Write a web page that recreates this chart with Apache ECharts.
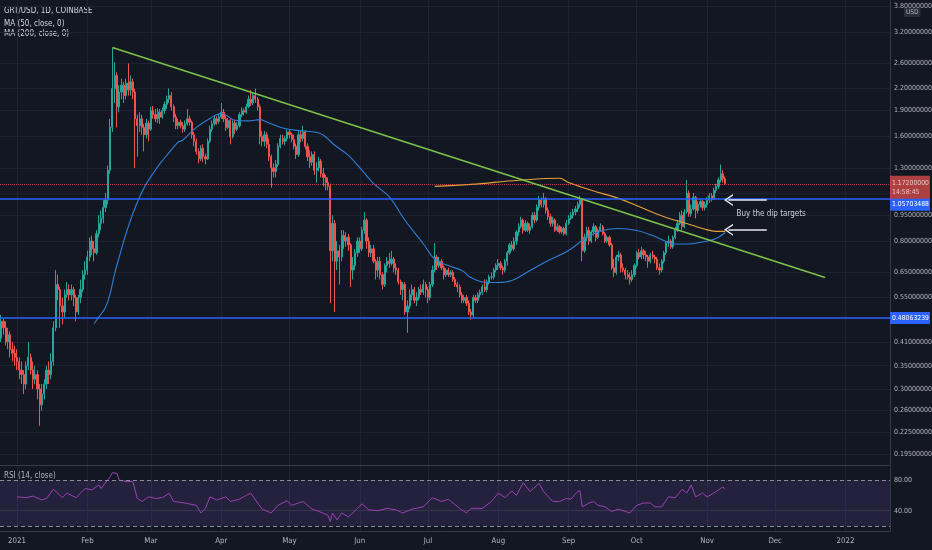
<!DOCTYPE html>
<html><head><meta charset="utf-8">
<script src="https://cdn.jsdelivr.net/npm/echarts@6/dist/echarts.min.js"></script>
<style>html,body{margin:0;padding:0;background:#131722}#c{width:932px;height:550px}</style>
</head><body><div id="c"></div><script>
const startDate = '2020-12-24';
const firstOpen = 0.40;
const closes = [
0.42,0.47,0.45,0.41,0.43,0.39,0.38,0.37,
0.36,0.34,0.33,0.31,0.35,0.37,0.34,0.32,0.33,0.30,0.27,0.29,0.31,0.34,0.33,0.36,0.45,0.60,0.58,0.52,0.50,0.56,0.58,0.56,0.58,0.55,0.50,0.55,0.58,0.64,0.66,
0.72,0.80,0.76,0.74,0.84,0.90,0.93,1.00,1.05,1.28,1.70,2.20,2.40,1.95,2.15,2.25,2.10,2.28,2.18,2.30,2.15,1.80,1.72,1.80,1.70,1.62,1.75,1.68,
1.90,1.85,1.80,1.88,1.82,1.90,1.98,2.05,2.10,1.95,1.82,1.72,1.76,1.72,1.68,1.74,1.80,1.76,1.62,1.55,1.45,1.38,1.48,1.40,1.38,1.55,1.68,1.74,1.80,1.77,1.82,
1.88,1.80,1.70,1.78,1.60,1.75,1.68,1.72,1.85,1.90,1.88,1.95,2.05,2.00,2.10,2.05,1.95,1.60,1.55,1.62,1.52,1.40,1.30,1.27,1.33,1.50,1.58,1.55,1.58,1.65,
1.62,1.57,1.50,1.42,1.62,1.58,1.65,1.50,1.40,1.35,1.42,1.28,1.30,1.36,1.25,1.22,1.18,1.15,0.75,0.90,0.70,0.75,0.72,0.83,0.80,0.82,0.78,0.66,0.68,0.74,0.80,
0.76,0.86,0.92,0.80,0.74,0.76,0.70,0.66,0.70,0.64,0.60,0.68,0.70,0.69,0.71,0.67,0.66,0.61,0.58,0.60,0.50,0.52,0.56,0.58,0.54,0.55,0.58,0.57,0.60,0.58,
0.55,0.60,0.66,0.72,0.68,0.70,0.67,0.64,0.66,0.64,0.65,0.62,0.60,0.59,0.56,0.54,0.55,0.53,0.50,0.49,0.55,0.54,0.56,0.57,0.59,0.58,0.61,0.63,0.63,0.66,0.68,
0.69,0.67,0.66,0.70,0.74,0.78,0.76,0.80,0.85,0.88,0.92,0.86,0.90,0.86,0.88,0.95,0.92,1.00,1.05,1.02,1.06,0.98,0.94,0.90,0.92,0.86,0.88,0.85,0.87,0.84,0.90,
0.93,0.95,0.97,0.99,1.02,1.05,0.75,0.82,0.86,0.80,0.85,0.88,0.82,0.86,0.88,0.84,0.80,0.82,0.78,0.67,0.65,0.72,0.73,0.67,0.66,0.64,0.63,0.62,0.64,0.68,
0.74,0.72,0.75,0.73,0.72,0.70,0.73,0.72,0.71,0.67,0.66,0.70,0.74,0.79,0.80,0.77,0.82,0.86,0.90,0.95,0.88,0.97,1.10,0.96,0.99,1.07,0.98,1.02,1.04,1.00,1.02,
1.05,1.08,1.06,1.12,1.15,1.20,1.25,1.21,1.172];
const highs = [
0.46,0.49,0.48,0.47,0.45,0.44,0.41,0.40,
0.39,0.37,0.36,0.34,0.36,0.41,0.38,0.36,0.35,0.34,0.31,0.31,0.32,0.35,0.36,0.38,0.47,0.66,0.64,0.59,0.55,0.58,0.61,0.60,0.60,0.59,0.56,0.56,0.62,0.66,0.70,
0.75,0.82,0.83,0.80,0.86,0.95,0.98,1.05,1.10,1.32,1.80,2.88,2.62,2.45,2.25,2.35,2.30,2.35,2.60,2.40,2.35,2.20,1.85,1.88,1.85,1.74,1.80,1.78,
1.95,1.96,1.92,1.93,1.92,1.94,2.02,2.10,2.20,2.15,1.98,1.86,1.80,1.79,1.76,1.78,1.92,1.84,1.78,1.65,1.58,1.48,1.51,1.52,1.43,1.58,1.72,1.78,1.84,1.83,1.86,
2.00,1.92,1.84,1.81,1.80,1.78,1.79,1.76,1.88,1.94,1.93,1.99,2.10,2.18,2.14,2.20,2.08,1.98,1.66,1.66,1.65,1.58,1.42,1.34,1.37,1.53,1.62,1.62,1.61,1.68,
1.68,1.64,1.62,1.53,1.66,1.66,1.72,1.67,1.53,1.46,1.45,1.45,1.35,1.40,1.38,1.30,1.24,1.22,1.17,0.95,0.92,0.80,0.78,0.86,0.86,0.85,0.84,0.79,0.72,0.76,0.82,
0.82,0.88,0.97,0.93,0.82,0.78,0.78,0.71,0.72,0.72,0.65,0.69,0.72,0.74,0.75,0.72,0.69,0.67,0.62,0.61,0.61,0.54,0.58,0.60,0.59,0.57,0.59,0.60,0.62,0.61,
0.59,0.61,0.68,0.79,0.73,0.72,0.71,0.68,0.67,0.67,0.66,0.66,0.63,0.61,0.60,0.57,0.56,0.56,0.54,0.51,0.56,0.56,0.57,0.58,0.60,0.62,0.62,0.64,0.65,0.67,0.69,
0.71,0.70,0.68,0.71,0.75,0.79,0.80,0.82,0.86,0.90,0.94,0.93,0.92,0.91,0.90,0.97,0.97,1.02,1.08,1.07,1.10,1.07,1.00,0.96,0.94,0.93,0.90,0.89,0.88,0.88,0.92,
0.95,0.97,0.99,1.01,1.04,1.08,1.06,0.84,0.88,0.88,0.86,0.90,0.89,0.87,0.90,0.89,0.85,0.83,0.83,0.79,0.71,0.73,0.75,0.74,0.69,0.67,0.66,0.65,0.66,0.69,
0.75,0.76,0.77,0.76,0.75,0.73,0.74,0.75,0.73,0.72,0.69,0.71,0.75,0.80,0.83,0.81,0.83,0.88,0.92,0.97,0.98,0.99,1.20,1.12,1.02,1.10,1.08,1.04,1.06,1.05,1.04,
1.07,1.10,1.10,1.14,1.17,1.22,1.33,1.28,1.23];
const lows = [
0.38,0.41,0.43,0.40,0.39,0.37,0.36,0.35,
0.34,0.32,0.31,0.29,0.30,0.34,0.33,0.30,0.31,0.28,0.235,0.26,0.28,0.30,0.31,0.32,0.35,0.44,0.54,0.45,0.46,0.48,0.55,0.54,0.54,0.52,0.47,0.49,0.53,0.57,0.62,
0.64,0.70,0.73,0.70,0.73,0.82,0.86,0.90,0.97,1.02,1.25,1.65,2.00,1.70,1.88,2.05,2.00,2.05,2.10,2.10,2.05,1.30,1.40,1.65,1.62,1.45,1.58,1.55,
1.66,1.80,1.76,1.75,1.74,1.80,1.86,1.92,2.00,1.90,1.76,1.68,1.68,1.69,1.64,1.65,1.72,1.72,1.58,1.50,1.42,1.34,1.36,1.35,1.33,1.37,1.53,1.65,1.72,1.73,1.74,
1.80,1.76,1.66,1.68,1.52,1.58,1.63,1.66,1.70,1.82,1.84,1.86,1.93,1.96,1.97,2.00,1.90,1.52,1.50,1.50,1.48,1.36,1.14,1.22,1.22,1.31,1.48,1.52,1.51,1.55,
1.58,1.54,1.47,1.38,1.40,1.54,1.55,1.47,1.36,1.30,1.32,1.24,1.18,1.27,1.22,1.15,1.12,1.12,0.53,0.70,0.50,0.66,0.60,0.70,0.76,0.77,0.75,0.59,0.62,0.66,0.72,
0.74,0.75,0.84,0.76,0.72,0.72,0.69,0.62,0.63,0.62,0.58,0.59,0.65,0.67,0.68,0.65,0.64,0.60,0.56,0.54,0.49,0.435,0.51,0.54,0.53,0.52,0.54,0.56,0.56,0.55,
0.53,0.54,0.59,0.65,0.66,0.67,0.66,0.62,0.63,0.63,0.63,0.61,0.59,0.57,0.55,0.53,0.53,0.52,0.49,0.475,0.48,0.53,0.53,0.55,0.56,0.57,0.57,0.60,0.62,0.62,0.65,
0.66,0.66,0.64,0.65,0.68,0.73,0.75,0.75,0.78,0.83,0.87,0.84,0.85,0.85,0.84,0.87,0.90,0.91,0.98,1.00,1.00,0.96,0.92,0.88,0.88,0.85,0.85,0.84,0.84,0.83,0.83,
0.89,0.92,0.93,0.95,0.97,1.00,0.70,0.74,0.80,0.78,0.79,0.83,0.80,0.81,0.85,0.83,0.79,0.79,0.77,0.66,0.63,0.64,0.70,0.65,0.65,0.62,0.62,0.60,0.61,0.63,
0.67,0.71,0.71,0.71,0.70,0.67,0.69,0.71,0.69,0.66,0.64,0.65,0.69,0.73,0.77,0.76,0.76,0.81,0.85,0.89,0.86,0.87,0.96,0.94,0.94,0.98,0.93,0.96,1.00,0.98,0.98,
1.00,1.03,1.04,1.05,1.10,1.13,1.18,1.18,1.16];
const ma50 = [['2021-02-04',0.463],['2021-02-06',0.483],['2021-02-09',0.516],['2021-02-11',0.564],['2021-02-13',0.645],['2021-02-15',0.719],['2021-02-18',0.84],['2021-02-21',0.959],['2021-02-24',1.072],['2021-02-27',1.171],['2021-03-02',1.255],['2021-03-05',1.337],['2021-03-08',1.413],['2021-03-13',1.543],['2021-03-15',1.561],['2021-03-21',1.70],['2021-03-28',1.82],['2021-04-01',1.868],['2021-04-07',1.783],['2021-04-13',1.775],['2021-04-18',1.79],['2021-04-21',1.763],['2021-04-29',1.687],['2021-05-07',1.66],['2021-05-14',1.639],['2021-05-17',1.596],['2021-05-21',1.51],['2021-05-27',1.413],['2021-06-02',1.279],['2021-06-07',1.173],['2021-06-14',1.072],['2021-06-21',0.917],['2021-06-29',0.786],['2021-07-04',0.71],['2021-07-10',0.68],['2021-07-16',0.658],['2021-07-20',0.628],['2021-07-27',0.608],['2021-08-01',0.608],['2021-08-07',0.616],['2021-08-15',0.658],['2021-08-23',0.703],['2021-09-01',0.752],['2021-09-09',0.82],['2021-09-16',0.858],['2021-09-23',0.87],['2021-10-01',0.858],['2021-10-08',0.83],['2021-10-14',0.798],['2021-10-18',0.785],['2021-10-24',0.785],['2021-10-30',0.795],['2021-11-05',0.814],['2021-11-09',0.847]];
const ma200 = [['2021-07-04',1.15],['2021-07-20',1.165],['2021-08-10',1.197],['2021-08-28',1.213],['2021-09-01',1.18],['2021-09-11',1.12],['2021-09-23',1.062],['2021-10-03',0.999],['2021-10-14',0.936],['2021-10-23',0.899],['2021-10-30',0.87],['2021-11-05',0.853],['2021-11-09',0.853]];
const rsi = [['2021-01-01',58],['2021-01-05',57],['2021-01-08',59],['2021-01-12',54],['2021-01-14',56],['2021-01-17',68],['2021-01-21',57],['2021-01-23',63],['2021-01-27',57],['2021-01-31',69],['2021-02-03',67],['2021-02-06',73.5],['2021-02-07',69],['2021-02-11',84],['2021-02-12',89.5],['2021-02-14',88.7],['2021-02-15',80],['2021-02-18',78],['2021-02-21',78],['2021-02-23',56],['2021-02-25',52],['2021-02-28',58],['2021-03-03',56],['2021-03-06',57],['2021-03-09',62.6],['2021-03-11',52],['2021-03-16',50],['2021-03-21',47],['2021-03-23',37],['2021-03-25',43],['2021-03-27',58],['2021-03-30',54],['2021-04-03',58],['2021-04-05',52],['2021-04-09',55],['2021-04-12',60],['2021-04-14',63],['2021-04-17',50],['2021-04-19',42],['2021-04-23',37],['2021-04-26',47],['2021-04-30',53],['2021-05-02',47],['2021-05-07',52],['2021-05-11',42],['2021-05-14',39],['2021-05-18',34],['2021-05-19',26],['2021-05-20',37],['2021-05-22',28],['2021-05-24',37],['2021-05-27',32],['2021-05-30',40],['2021-06-02',49],['2021-06-05',41],['2021-06-09',40],['2021-06-13',43],['2021-06-17',41],['2021-06-20',37],['2021-06-24',42],['2021-06-29',45],['2021-07-03',57],['2021-07-07',52],['2021-07-10',55],['2021-07-15',43],['2021-07-18',37],['2021-07-20',43],['2021-07-25',43],['2021-07-29',52],['2021-08-01',63],['2021-08-04',57],['2021-08-07',66],['2021-08-09',60],['2021-08-12',76.5],['2021-08-15',65],['2021-08-19',75.6],['2021-08-21',65],['2021-08-25',52],['2021-08-28',52],['2021-08-31',56],['2021-09-02',55],['2021-09-05',65],['2021-09-06',66],['2021-09-07',45],['2021-09-10',50],['2021-09-12',52],['2021-09-14',47],['2021-09-17',45],['2021-09-20',39],['2021-09-23',42],['2021-09-26',39],['2021-09-28',37],['2021-10-01',47],['2021-10-04',50],['2021-10-07',50],['2021-10-09',45],['2021-10-12',45],['2021-10-15',58],['2021-10-18',57],['2021-10-21',68],['2021-10-23',63],['2021-10-25',73.5],['2021-10-27',58],['2021-10-30',63],['2021-11-01',58],['2021-11-04',63],['2021-11-07',69],['2021-11-08',71],['2021-11-09',68]];
const priceTicks = [0.195,0.225,0.26,0.30,0.35,0.41,0.55,0.65,0.80,0.95,1.30,1.60,1.90,2.20,2.60,3.20,3.80];
const priceGrid = [0.195,0.225,0.26,0.30,0.35,0.41,0.48,0.55,0.65,0.80,0.95,1.10,1.30,1.60,1.90,2.20,2.60,3.20,3.80];
const monthTicks = ['2021-01-01','2021-02-01','2021-03-01','2021-04-01','2021-05-01','2021-06-01','2021-07-01','2021-08-01','2021-09-01','2021-10-01','2021-11-01','2021-12-01','2022-01-01'];
const monthNames = ['Jan','Feb','Mar','Apr','May','Jun','Jul','Aug','Sep','Oct','Nov','Dec'];
const rsiTicks = [40, 80];
const rsiBands = [80, 20];
const trendline = [['2021-02-12', 2.89], ['2021-12-23', 0.628]];
const levels = [1.05703488, 0.48063239];
const lastPrice = 1.172;
const countdown = '14:58:45';
const arrows = [[['2021-11-10T10', 1.05], ['2021-11-27T07', 1.05]], [['2021-11-10T10', 0.862], ['2021-11-27T07', 0.862]]];
const note = ['2021-11-14', 0.961, 'Buy the dip targets'];

const DAY = 86400000;
function t(s) {
  const [d, h] = s.split('T');
  const [y, m, dd] = d.split('-').map(Number);
  return Date.UTC(y, m - 1, dd, h ? Number(h) : 0);
}
const t0 = t(startDate);
const candles = closes.map((c, i) => [t0 + i * DAY, i ? closes[i - 1] : firstOpen, c, lows[i], highs[i]]);
const FONT = "'Liberation Sans Narrow','DejaVu Sans Condensed','Roboto',sans-serif";
const CHEV = 'path://M0,10 L5,0 L10,10 L8.6,10 L5,2.8 L1.4,10 Z';

const chart = echarts.init(document.getElementById('c'), null, {renderer: 'canvas'});
const xMin = Date.UTC(2020, 11, 24, 12), xMax = Date.UTC(2022, 0, 20, 14);
const gridColor = '#1f2331';
const monthVals = monthTicks.map(t);
function xAxisFor(idx, showLabels) {
  return {
    gridIndex: idx, type: 'value', min: xMin, max: xMax, scale: true,
    axisTick: {show: false, customValues: monthVals},
    splitLine: {show: true, lineStyle: {color: gridColor, width: 1}},
    axisLine: {show: true, onZero: false, lineStyle: {color: '#363a45'}},
    axisLabel: showLabels ? {show: true, customValues: monthVals, color: '#b2b5be', fontSize: 7.8, margin: 6,
      formatter: v => { const d = new Date(v); return d.getUTCMonth() === 0 ? String(d.getUTCFullYear()) : monthNames[d.getUTCMonth()]; }}
      : {show: false}
  };
}
const badge = (bg) => ({show: true, position: 'end', distance: 0, backgroundColor: bg, color: '#fff', fontSize: 6.8, padding: [3, 1, 2, 2]});
chart.setOption({
  backgroundColor: '#131722',
  animation: false,
  textStyle: {fontFamily: FONT},
  grid: [
    {left: 0, right: 42, top: 0, height: 465, outerBoundsMode: 'none', containLabel: false},
    {left: 0, right: 42, top: 466, height: 65, outerBoundsMode: 'none', containLabel: false}
  ],
  xAxis: [xAxisFor(0, false), xAxisFor(1, true)],
  yAxis: [
    {gridIndex: 0, type: 'log', position: 'right', min: 0.1812, max: 3.958,
     axisLine: {show: true, lineStyle: {color: '#363a45'}},
     axisTick: {show: false, customValues: priceGrid},
     axisLabel: {customValues: priceTicks, formatter: v => v.toFixed(8), color: '#b2b5be', fontSize: 7, margin: 4},
     splitLine: {show: true, lineStyle: {color: gridColor}}},
    {gridIndex: 1, type: 'value', position: 'right', min: 13.5, max: 98.3,
     axisLine: {show: true, lineStyle: {color: '#363a45'}},
     axisTick: {show: false, customValues: [40]},
     axisLabel: {customValues: rsiTicks, formatter: v => v.toFixed(2), color: '#b2b5be', fontSize: 7, margin: 4},
     splitLine: {show: true, lineStyle: {color: '#2a2e39'}}}
  ],
  series: [
    {type: 'candlestick', xAxisIndex: 0, yAxisIndex: 0, data: candles, encode: {x: 0, y: [1, 2, 3, 4]},
     barWidth: 1.7,
     itemStyle: {color: '#26a69a', color0: '#ef5350', borderColor: '#26a69a', borderColor0: '#ef5350', borderWidth: 1},
     markLine: {silent: true, symbol: 'none', animation: false,
       data: [
         {yAxis: lastPrice, lineStyle: {color: '#ef5350', width: 1, type: 'dotted', opacity: 0.7},
          label: Object.assign(badge('#ef5350'), {formatter: lastPrice.toFixed(8) + '\n' + countdown, lineHeight: 9.5, offset: [0, 4]})},
         {yAxis: levels[0], lineStyle: {color: '#2962ff', width: 1.6, type: 'solid'},
          label: Object.assign(badge('#2962ff'), {formatter: levels[0].toFixed(8), offset: [0, 6]})},
         {yAxis: levels[1], lineStyle: {color: '#2962ff', width: 1.6, type: 'solid'},
          label: Object.assign(badge('#2962ff'), {formatter: levels[1].toFixed(8)})},
         [{coord: [t(trendline[0][0]), trendline[0][1]], lineStyle: {color: '#7cc24a', width: 1.6, type: 'solid'}, label: {show: false}},
          {coord: [t(trendline[1][0]), trendline[1][1]]}],
         ...arrows.map(a => [
           {coord: [t(a[0][0]), a[0][1]], symbol: CHEV, symbolSize: [12, 9], lineStyle: {color: '#e8eaf0', width: 1.5, type: 'solid'}, label: {show: false}},
           {coord: [t(a[1][0]), a[1][1]], symbol: 'none'}
         ])
       ]},
     markPoint: {silent: true, animation: false,
       data: [{coord: [t(note[0]), note[1]], symbol: 'circle', symbolSize: 0,
         label: {show: true, position: 'right', distance: 0, formatter: note[2], color: '#cfd3dc', fontSize: 8}}]}
    },
    {type: 'line', xAxisIndex: 0, yAxisIndex: 0, data: ma50.map(p => [t(p[0]), p[1]]), smooth: 0.4, showSymbol: false, symbol: 'none',
     lineStyle: {color: '#2f7fd8', width: 1.1}},
    {type: 'line', xAxisIndex: 0, yAxisIndex: 0, data: ma200.map(p => [t(p[0]), p[1]]), smooth: 0.4, showSymbol: false, symbol: 'none',
     lineStyle: {color: '#e7a23a', width: 1.1}},
    {type: 'line', xAxisIndex: 1, yAxisIndex: 1, data: rsi.map(p => [t(p[0]), p[1]]), showSymbol: false, symbol: 'none',
     lineStyle: {color: '#9a42b3', width: 1},
     markArea: {silent: true, itemStyle: {color: 'rgba(126,87,194,0.16)'}, data: [[{yAxis: rsiBands[1]}, {yAxis: rsiBands[0]}]]},
     markLine: {silent: true, symbol: 'none', label: {show: false},
       lineStyle: {color: '#8a8d96', type: [4, 3], width: 1},
       data: rsiBands.map(v => ({yAxis: v}))}}
  ],
  graphic: [
    {type: 'text', left: 4, top: 7, style: {text: 'GRT/USD, 1D, COINBASE', fill: '#d1d4dc', font: '8px ' + FONT}},
    {type: 'text', left: 4, top: 19.5, style: {text: 'MA (50, close, 0)', fill: '#d1d4dc', font: '8px ' + FONT}},
    {type: 'text', left: 4, top: 30, style: {text: 'MA (200, close, 0)', fill: '#d1d4dc', font: '8px ' + FONT}},
    {type: 'text', left: 4, top: 472, style: {text: 'RSI (14, close)', fill: '#b2b5be', font: '8px ' + FONT}},
    {type: 'text', left: 904, top: 8, style: {text: 'USD', fill: '#b2b5be', font: '6.5px ' + FONT, backgroundColor: '#2a2e39', padding: [1, 2]}}
  ]
});
</script></body></html>
